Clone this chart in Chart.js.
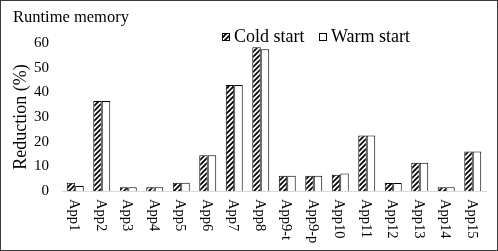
<!DOCTYPE html>
<html><head><meta charset="utf-8">
<script src="https://cdn.jsdelivr.net/npm/chart.js@4"></script>
<style>html,body{margin:0;padding:0;background:#fff}canvas{display:block}</style>
</head><body>
<canvas id="c" width="498" height="251"></canvas>
<script>
const categories = ['App1','App2','App3','App4','App5','App6','App7','App8','App9-t','App9-p','App10','App11','App12','App13','App14','App15'];
const coldStart = [3.3, 36.5, 1.5, 1.5, 3.3, 14.5, 43, 58.3, 6.2, 6.2, 6.6, 22.5, 3.2, 11.5, 1.5, 16];
const warmStart = [2, 36.5, 1.5, 1.5, 3.3, 14.5, 43, 57.5, 6.2, 6.2, 7.1, 22.5, 3.2, 11.5, 1.5, 16];
const seriesNames = ['Cold start', 'Warm start'];
const yTickValues = [0, 10, 20, 30, 40, 50, 60];
const chartTitle = 'Runtime memory';
const yTitle = 'Reduction (%)';

const SERIF = '"Liberation Serif", "Times New Roman", serif';

function hatch() {
  const s = 5;
  const c = document.createElement('canvas');
  c.width = s; c.height = s;
  const x = c.getContext('2d');
  x.fillStyle = '#fff'; x.fillRect(0, 0, s, s);
  x.strokeStyle = '#000'; x.lineWidth = 1.8;
  x.beginPath();
  x.moveTo(-1, s + 1); x.lineTo(s + 1, -1);
  x.moveTo(-1, 1); x.lineTo(1, -1);
  x.moveTo(s - 1, s + 1); x.lineTo(s + 1, s - 1);
  x.stroke();
  return x.createPattern(c, 'repeat');
}
const hatchFill = hatch();

const deco = {
  id: 'deco',
  afterDraw(chart) {
    const ctx = chart.ctx;
    const xs = chart.scales.x;
    ctx.save();
    ctx.fillStyle = '#000';
    ctx.textAlign = 'left';
    ctx.textBaseline = 'alphabetic';
    ctx.font = '16.5px ' + SERIF;
    ctx.fillText(chartTitle, 13, 22);

    // x labels rotated clockwise
    ctx.font = '14.5px ' + SERIF;
    ctx.textBaseline = 'middle';
    chart.data.labels.forEach((l, i) => {
      const px = xs.getPixelForTick(i);
      ctx.save();
      ctx.translate(px - 1, xs.top + 8);
      ctx.rotate(Math.PI / 2);
      ctx.fillText(l, 0, 0);
      ctx.restore();
    });

    // legend
    const legendX = [222, 319];
    ctx.font = '18px ' + SERIF;
    chart.data.datasets.forEach((ds, i) => {
      const bx = legendX[i], by = 33;
      ctx.fillStyle = ds.backgroundColor;
      ctx.fillRect(bx, by, 8, 8);
      ctx.strokeStyle = '#000';
      ctx.lineWidth = 1;
      ctx.strokeRect(bx + 0.5, by + 0.5, 7, 7);
      ctx.fillStyle = '#000';
      ctx.textBaseline = 'middle';
      ctx.fillText(ds.label, bx + 12, by + 4.5);
    });

    // outer border
    ctx.strokeStyle = '#3a3a3a';
    ctx.lineWidth = 1;
    ctx.strokeRect(0.5, 0.5, chart.width - 1, chart.height - 1);
    ctx.restore();
  }
};

new Chart(document.getElementById('c'), {
  type: 'bar',
  data: {
    labels: categories,
    datasets: [
      { label: seriesNames[0], data: coldStart, backgroundColor: hatchFill, borderColor: '#000', borderWidth: 1 },
      { label: seriesNames[1], data: warmStart, backgroundColor: '#fff', borderColor: '#000', borderWidth: 1 }
    ]
  },
  options: {
    responsive: false,
    animation: false,
    devicePixelRatio: 1,
    layout: { padding: { left: 0, right: 12, top: 43, bottom: 0 } },
    datasets: { bar: { categoryPercentage: 0.64, barPercentage: 1 } },
    plugins: { legend: { display: false }, title: { display: false }, tooltip: { enabled: false } },
    scales: {
      x: {
        grid: { display: false },
        border: { display: true, color: '#d9d9d9', width: 1 },
        ticks: { display: false },
        afterFit(s) { s.height = 60; }
      },
      y: {
        min: 0, max: 60,
        afterBuildTicks(s) { s.ticks = yTickValues.map(v => ({ value: v })); },
        grid: { display: false, drawTicks: false },
        border: { display: false },
        ticks: { color: '#000', padding: 13, font: { family: SERIF, size: 15 } },
        title: { display: true, text: yTitle, color: '#000', font: { family: SERIF, size: 18 }, padding: { top: 10, bottom: 0 } },
        afterFit(s) { s.width = 62; }
      }
    }
  },
  plugins: [deco]
});
</script>
</body></html>
